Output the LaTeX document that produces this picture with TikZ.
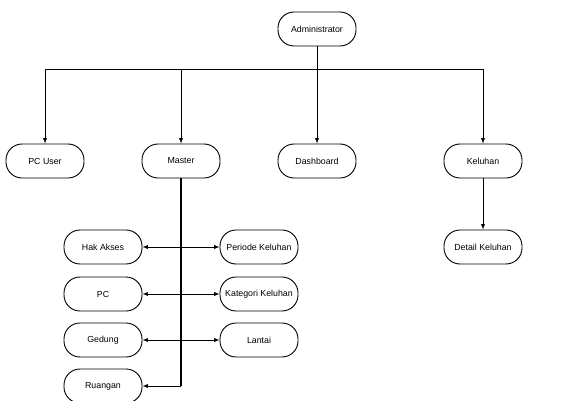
\documentclass[tikz,border=0pt]{standalone}
\usepackage{fontspec}
\setmainfont{Liberation Sans}
\usetikzlibrary{arrows,positioning}

\begin{document}
\begin{tikzpicture}[x=1pt,y=-1pt,>=latex,line width=0.9pt,
  box/.style={draw,rounded corners=16pt,minimum width=78pt,minimum height=34pt,
    inner sep=1pt,font=\fontsize{8.8}{10}\selectfont}]
\useasboundingbox (0,0) rectangle (581,401);
%\draw[step=20,color=gray] (0,0) grid (581,401);
% top
\node[box] (admin) at (317,29) {Administrator};
% second level
\node[box] (pcuser) at (45,161) {PC User};
\node[box] (master) at (181,161) {Master};
\node[box] (dashboard) at (317,161) {Dashboard};
\node[box] (keluhan) at (483,161) {Keluhan};
% master menu
\node[box] (hakakses) at (103,247) {Hak Akses};
\node[box] (pc) at (103,294) {PC};
\node[box] (gedung) at (103,340) {Gedung};
\node[box] (ruangan) at (103,386) {Ruangan};
\node[box] (periode) at (259,247) {Periode Keluhan};
\node[box] (kategori) at (259,294) {Kategori Keluhan};
\node[box] (lantai) at (259,340) {Lantai};
% keluhan menu
\node[box] (detail) at (483,247) {Detail Keluhan};
% bus
\coordinate (busL) at (45,69);
\coordinate (busR) at (483,69);
\draw (admin.south) -- (admin.south|-busL);
\draw (busL) -- (busR);
\draw[->] (busL) -- (pcuser);
\draw[->] (master.north|-busL) -- (master);
\draw[->] (dashboard.north|-busL) -- (dashboard);
\draw[->] (busR) -- (keluhan);
% master branch
\coordinate (mend) at (master.south|-ruangan);
\draw[line width=1.2pt] (master.south) -- (mend);
\draw[->] (mend) -- (ruangan);
\draw[<->] (hakakses) -- (periode);
\draw[<->] (pc) -- (kategori);
\draw[<->] (gedung) -- (lantai);
% keluhan branch
\draw[->] (keluhan) -- (detail);
\end{tikzpicture}
\end{document}
